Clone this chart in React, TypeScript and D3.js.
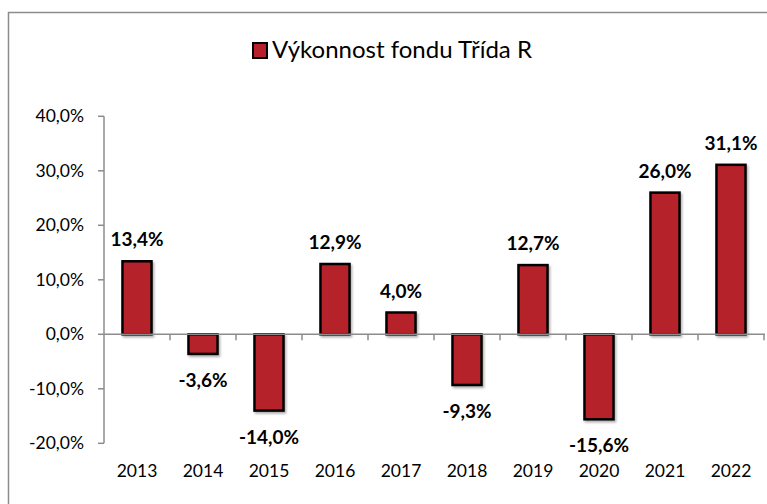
import React from "react";
import * as d3 from "d3";

const years = ["2013","2014","2015","2016","2017","2018","2019","2020","2021","2022"];
const values = [13.4, -3.6, -14.0, 12.9, 4.0, -9.3, 12.7, -15.6, 26.0, 31.1];
const yTicks = [-20, -10, 0, 10, 20, 30, 40];
const seriesName = "Výkonnost fondu Třída R";

const W = 767, H = 504;
const fmt = (v: number) => v.toFixed(1).replace(".", ",") + "%";

export default function App() {
  const x = d3.scaleBand().domain(years).range([104, 764]).paddingInner(0.56).paddingOuter(0.28);
  const xb = d3.scaleBand().domain(years).range([104, 764]);
  const y = d3.scaleLinear().domain([-20, 40]).range([443.3, 116.3]);
  const font = "Lato, 'Open Sans', sans-serif";
  const fill = "#B5202A";
  return (
    <svg width={W} height={H} style={{ position: "absolute", left: 0, top: 0 }} fontFamily={font}>
      <defs>
        <filter id="sh" x="-20%" y="-20%" width="150%" height="150%">
          <feDropShadow dx="1.5" dy="2" stdDeviation="1.2" floodColor="#000" floodOpacity="0.3" />
        </filter>
      </defs>
      <rect x={0} y={0} width={W} height={H} fill="#fff" />
      <rect x={8.5} y={12.5} width={W + 20} height={H + 20} fill="none" stroke="#8c8c8c" strokeWidth={1.5} />
      {/* legend */}
      <rect x={253} y={43} width={14} height={15} fill={fill} stroke="#000" strokeWidth={2} />
      <text x={272} y={58} fontSize={24} fill="#000">{seriesName}</text>
      {/* y axis */}
      <line x1={104} x2={104} y1={y(40)} y2={y(-20)} stroke="#8c8c8c" strokeWidth={1.5} />
      {yTicks.map((t) => (
        <g key={t}>
          <line x1={98} x2={104} y1={y(t)} y2={y(t)} stroke="#8c8c8c" strokeWidth={1.5} />
          <text x={84} y={y(t) + 6} fontSize={17.5} textAnchor="end" fill="#000">{fmt(t)}</text>
        </g>
      ))}
      {/* bars */}
      {years.map((yr, i) => {
        const v = values[i];
        const top = y(Math.max(v, 0));
        const h = Math.abs(y(v) - y(0));
        return (
          <rect key={yr} x={x(yr)!} y={top} width={x.bandwidth()} height={h} fill={fill} stroke="#000" strokeWidth={2.5} filter="url(#sh)" />
        );
      })}
      {/* x axis */}
      <line x1={104} x2={765} y1={y(0)} y2={y(0)} stroke="#8c8c8c" strokeWidth={1.5} />
      {years.map((yr) => (
        <line key={yr} x1={xb(yr)! + xb.bandwidth()} x2={xb(yr)! + xb.bandwidth()} y1={y(0)} y2={y(0) + 6} stroke="#8c8c8c" strokeWidth={1.5} />
      ))}
      {years.map((yr) => (
        <text key={yr} x={xb(yr)! + xb.bandwidth() / 2} y={477} fontSize={17.5} textAnchor="middle" fill="#000">{yr}</text>
      ))}
      {/* data labels */}
      {years.map((yr, i) => {
        const v = values[i];
        const cx = xb(yr)! + xb.bandwidth() / 2;
        const ly = v >= 0 ? y(v) - 15 : y(v) + 33;
        return (
          <text key={yr} x={cx} y={ly} fontSize={19} fontWeight="bold" textAnchor="middle" fill="#000">{fmt(v)}</text>
        );
      })}
    </svg>
  );
}
